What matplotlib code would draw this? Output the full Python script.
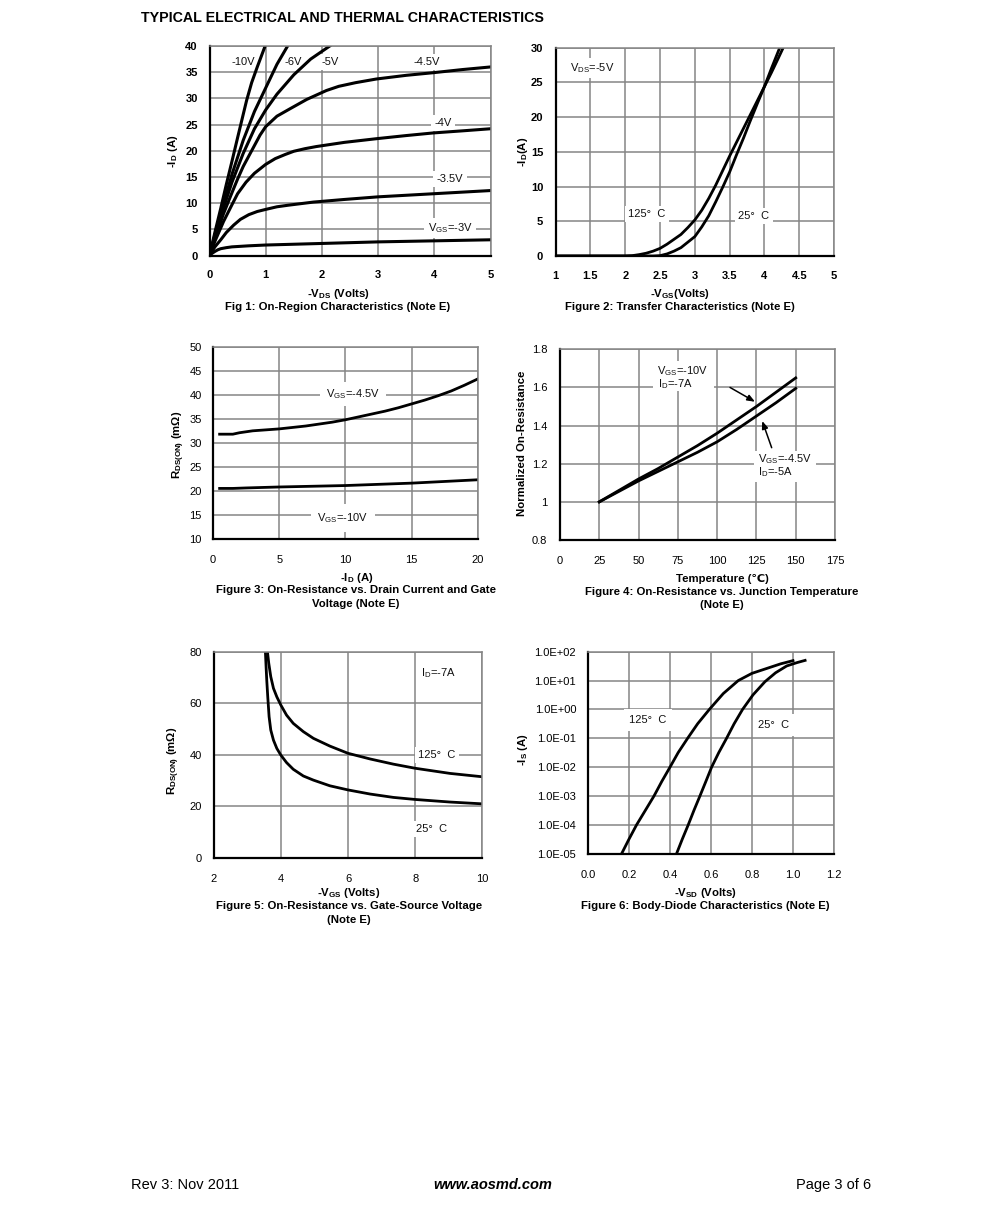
import matplotlib
matplotlib.use("Agg")
import matplotlib.pyplot as plt
from matplotlib import transforms
from matplotlib.patches import Rectangle

W, H = 991, 1220
plt.rcParams['font.family'] = ['Liberation Sans', 'DejaVu Sans']
plt.rcParams['mathtext.fontset'] = 'custom'
plt.rcParams['mathtext.rm'] = 'Liberation Sans'
plt.rcParams['mathtext.bf'] = 'Liberation Sans:bold'
plt.rcParams['mathtext.default'] = 'regular'

# Figure 1
f1_x10 = [0, .1, .2, .3, .4, .5, .66, .75, .85, .99]
f1_y10 = [0, 4.6, 9, 13.6, 18, 22.5, 29.6, 33, 36, 40]
f1_x6 = [0, .1, .2, .4, .6, .8, 1.0, 1.2, 1.39]
f1_y6 = [0, 4.1, 8, 15.5, 22, 27.5, 32, 36.5, 40]
f1_x5 = [0, .1, .2, .4, .6, .8, 1.0, 1.2, 1.5, 1.8, 2.14]
f1_y5 = [0, 3.8, 7.5, 14, 19.5, 24.2, 27.8, 30.8, 34.5, 37.5, 40]
f1_x45 = [0, .05, .1, .25, .4, .5, .6, .75, .9, 1.0, 1.2, 1.43, 1.73, 2.08, 2.3, 2.6, 2.97, 3.5, 3.98, 4.5, 5]
f1_y45 = [0, 1.7, 3.4, 8, 12, 14.6, 17, 20, 23, 24.6, 26.6, 28, 29.8, 31.5, 32.3, 33, 33.7, 34.4, 34.9, 35.5, 36]
f1_x4 = [0, .05, .1, .25, .4, .5, .65, .8, 1, 1.17, 1.35, 1.5, 1.7, 1.9, 2.4, 2.97, 3.5, 3.98, 4.5, 5]
f1_y4 = [0, 1.4, 2.8, 6.5, 9.7, 11.8, 14, 15.7, 17.4, 18.5, 19.3, 19.9, 20.4, 20.8, 21.6, 22.3, 22.9, 23.4, 23.8, 24.2]
f1_x35 = [0, .05, .1, .2, .3, .43, .55, .7, .85, 1, 1.2, 1.4, 1.85, 2.4, 3, 4, 5]
f1_y35 = [0, .9, 1.7, 3, 4.4, 5.8, 6.9, 7.8, 8.4, 8.8, 9.3, 9.6, 10.2, 10.7, 11.2, 11.8, 12.4]
f1_x3 = [0, .05, .1, .15, .2, .3, .4, .7, 1, 2, 3, 4, 5]
f1_y3 = [0, .45, .8, 1.1, 1.3, 1.5, 1.65, 1.85, 2, 2.3, 2.6, 2.8, 3]

# Figure 2
f2_x125 = [1, 2, 2.1, 2.2, 2.3, 2.4, 2.5, 2.6, 2.7, 2.8, 2.9, 3, 3.1, 3.2, 3.3, 3.4, 3.5, 3.6, 3.7, 3.8, 3.9, 4, 4.1, 4.22]
f2_y125 = [0, 0, .05, .2, .4, .7, 1.1, 1.7, 2.4, 3.1, 4.1, 5.2, 6.6, 8.3, 10.2, 12.3, 14.4, 16.4, 18.4, 20.4, 22.4, 24.4, 27, 30]
f2_x25 = [1, 2.4, 2.5, 2.6, 2.7, 2.8, 2.9, 3, 3.1, 3.2, 3.3, 3.4, 3.5, 3.6, 3.7, 3.79, 3.9, 4, 4.1, 4.2, 4.27]
f2_y25 = [0, 0, .05, .3, .7, 1.2, 2, 2.8, 4.2, 5.8, 7.8, 9.9, 12.1, 14.6, 17, 19.3, 22, 24.4, 26.4, 28.5, 30]

# Figure 3
f3_x45 = [.5, 1.5, 2, 3, 4, 5, 6, 7, 8, 9, 10, 11, 12, 13, 14, 15, 16, 17, 18, 19, 20]
f3_y45 = [31.9, 31.9, 32.2, 32.6, 32.8, 33, 33.3, 33.6, 34, 34.4, 34.9, 35.5, 36.1, 36.7, 37.4, 38.2, 39, 39.9, 40.9, 42.1, 43.4]
f3_x10 = [.5, 1.5, 2.5, 5, 10, 15, 20]
f3_y10 = [20.6, 20.6, 20.7, 20.9, 21.2, 21.7, 22.4]

# Figure 4
f4_t = [25, 37.5, 50, 62.5, 75, 87.5, 100, 112.5, 125, 137.5, 150]
f4_y10 = [1, 1.06, 1.12, 1.175, 1.235, 1.295, 1.36, 1.43, 1.5, 1.575, 1.65]
f4_y45 = [1, 1.055, 1.11, 1.16, 1.21, 1.26, 1.315, 1.38, 1.45, 1.52, 1.595]

# Figure 5
f5_x125 = [3.6, 3.64, 3.7, 3.78, 3.88, 4, 4.17, 4.37, 4.67, 4.97, 5.46, 6, 6.66, 7.35, 8, 9.04, 10]
f5_y125 = [80, 75.5, 70.3, 65.8, 62.5, 59.3, 55.4, 52.2, 49, 46.4, 43.4, 40.6, 38.4, 36.4, 34.8, 32.8, 31.5]
f5_x25 = [3.54, 3.56, 3.58, 3.61, 3.65, 3.7, 3.78, 3.88, 4, 4.17, 4.37, 4.67, 4.97, 5.46, 6, 6.66, 7.35, 8, 9.04, 10]
f5_y25 = [80, 74.2, 69, 62.5, 54.8, 49.6, 45.7, 42.5, 39.9, 37, 34.4, 31.8, 30.2, 28, 26.4, 24.8, 23.5, 22.7, 21.7, 21]

# Figure 6
f6_x125 = [.164, .2, .237, .28, .322, .36, .4, .44, .486, .535, .592, .66, .733, .8, .87, .94, 1.0]
f6_y125 = [1e-5, 3.2e-5, 1e-4, 3.2e-4, 1e-3, 3.2e-3, 1e-2, .032, .1, .32, 1, 3.55, 10, 17.8, 26, 38, 49]
f6_x25 = [.432, .46, .489, .517, .546, .575, .603, .638, .676, .713, .754, .805, .863, .915, .969, 1.02, 1.059]
f6_y25 = [1e-5, 3.2e-5, 1e-4, 3.2e-4, 1e-3, 3.2e-3, 1e-2, .032, .1, .32, 1, 3.2, 9.1, 18.6, 32, 42, 50]

title_text = "TYPICAL ELECTRICAL AND THERMAL CHARACTERISTICS"

fig = plt.figure(figsize=(W / 100, H / 100), dpi=100, facecolor='white')
px = transforms.Affine2D().scale(1, -1).translate(0, H)
GRAY = '#858585'
FS = 8.0
CFS = 8.2


def panel(l, r, t, b, xlim, ylim, xt, yt, xlab=None, ylab=None, bold=False, xpad=10, ypad=8, log=False):
    ax = fig.add_axes([l / W, 1 - b / H, (r - l) / W, (b - t) / H])
    if log:
        ax.set_yscale('log')
    ax.set_xlim(*xlim)
    ax.set_ylim(*ylim)
    ax.set_xticks(xt)
    ax.set_yticks(yt)
    ax.minorticks_off()
    if xlab:
        ax.set_xticklabels(xlab)
    if ylab:
        ax.set_yticklabels(ylab)
    ax.set_axisbelow(True)
    ax.grid(True, color=GRAY, lw=1.1, zorder=0.5)
    for s in ('top', 'right'):
        ax.spines[s].set_color(GRAY)
        ax.spines[s].set_linewidth(1.1)
    for s in ('left', 'bottom'):
        ax.spines[s].set_color('black')
        ax.spines[s].set_linewidth(1.6)
    ax.tick_params(axis='both', which='both', length=0, labelsize=FS)
    ax.tick_params(axis='x', pad=xpad)
    ax.tick_params(axis='y', pad=ypad)
    for lab in ax.get_xticklabels() + ax.get_yticklabels():
        lab.set_fontweight('bold' if bold else 'normal')
    return ax


def label(ax, x, y, s, ha='center', pad=2.5):
    bb = None if pad is None else dict(fc='white', ec='none', pad=pad)
    ax.text(x, y + 1, s, transform=px, ha=ha, va='center', fontsize=FS, color='#111111', zorder=1.2,
            bbox=bb, clip_on=False)


def blank(ax, x0, y0, x1, y1):
    ax.add_patch(Rectangle((x0, y0), x1 - x0, y1 - y0, transform=px, fc='white', ec='none', zorder=1))


def cap(x, y, s, rot=0, fs=CFS):
    fig.text(x, y, s, transform=px, ha='center', va='center', fontsize=fs, fontweight='bold',
             rotation=rot, color='black')


LW = 2.0

# Fig 1
a1 = panel(209.5, 490.5, 46, 255.5, (0, 5), (0, 40), range(0, 6), range(0, 41, 5), bold=True, xpad=10.5, ypad=8.5)
for xs, ys in [(f1_x10, f1_y10), (f1_x6, f1_y6), (f1_x5, f1_y5), (f1_x45, f1_y45),
               (f1_x4, f1_y4), (f1_x35, f1_y35), (f1_x3, f1_y3)]:
    a1.plot(xs, ys, color='black', lw=2.2, zorder=2, solid_joinstyle='round')
for x, y, s in [(243, 61, '-10V'), (293, 61, '-6V'), (330, 61, '-5V'), (427, 61, '-4.5V'),
                (443, 122, '-4V'), (450, 178, '-3.5V'), (450, 227, r'$V_{GS}$=-3V')]:
    label(a1, x, y, s)
cap(338, 294, r'-$\mathbf{V_{DS}}$ (Volts)')
cap(338, 307, 'Fig 1: On-Region Characteristics (Note E)')
cap(173, 151, r'-$\mathbf{I_D}$ (A)', rot=90)

# Fig 2
a2 = panel(555.7, 834, 47.7, 256, (1, 5), (0, 30), [1, 1.5, 2, 2.5, 3, 3.5, 4, 4.5, 5], range(0, 31, 5),
           xlab=['1', '1.5', '2', '2.5', '3', '3.5', '4', '4.5', '5'], bold=True, xpad=11, ypad=9)
a2.plot(f2_x125, f2_y125, color='black', lw=LW, zorder=2)
a2.plot(f2_x25, f2_y25, color='black', lw=LW, zorder=2)
for x, y, s in [(592, 67, r'$V_{DS}$=-5V'), (647, 213, '125°  C'), (754, 215, '25°  C')]:
    label(a2, x, y, s)
cap(680, 294, r'-$\mathbf{V_{GS}}$(Volts)')
cap(680, 307, 'Figure 2: Transfer Characteristics (Note E)')
cap(523, 152, r'-$\mathbf{I_D}$(A)', rot=90)

# Fig 3
a3 = panel(213, 477.7, 347.3, 539.3, (0, 20), (10, 50), range(0, 21, 5), range(10, 51, 5), xpad=11.5, ypad=8)
a3.plot(f3_x45, f3_y45, color='black', lw=LW, zorder=2)
a3.plot(f3_x10, f3_y10, color='black', lw=LW, zorder=2)
label(a3, 353, 393, r'$V_{GS}$=-4.5V', pad=4)
label(a3, 343, 517, r'$V_{GS}$=-10V', pad=5)
cap(357, 578, r'-$\mathbf{I_D}$ (A)')
cap(356, 590, 'Figure 3: On-Resistance vs. Drain Current and Gate')
cap(356, 604, 'Voltage (Note E)')
cap(179, 445, r'$\mathbf{R_{DS(ON)}}$ (m$\mathbf{\Omega}$)', rot=90)

# Fig 4
a4 = panel(560, 835, 349.3, 540, (0, 175), (0.8, 1.8), range(0, 176, 25), [.8, 1, 1.2, 1.4, 1.6, 1.8],
           ylab=['0.8', '1', '1.2', '1.4', '1.6', '1.8'], xpad=11.5, ypad=9)
a4.plot(f4_t, f4_y10, color='black', lw=LW, zorder=2)
a4.plot(f4_t, f4_y45, color='black', lw=LW, zorder=2)
blank(a4, 653, 361, 714, 391)
blank(a4, 754, 451, 816, 482)
label(a4, 683, 370, r'$V_{GS}$=-10V', pad=None)
label(a4, 658, 383, r'$I_D$=-7A', ha='left', pad=None)
label(a4, 758, 458, r'$V_{GS}$=-4.5V', ha='left', pad=None)
label(a4, 758, 471, r'$I_D$=-5A', ha='left', pad=None)
for start, end in [((108.2, 1.6), (124.1, 1.525)), ((134.7, 1.284), (128.7, 1.424))]:
    a4.annotate('', xy=end, xytext=start, zorder=3,
                arrowprops=dict(arrowstyle='-|>,head_width=0.18,head_length=0.45', color='black', lw=1.1,
                                shrinkA=0, shrinkB=0))
cap(722, 579, 'Temperature (℃)')
cap(722, 592, 'Figure 4: On-Resistance vs. Junction Temperature')
cap(722, 605, '(Note E)')
cap(522, 443, 'Normalized On-Resistance', rot=90)

# Fig 5
a5 = panel(213.7, 482.3, 651.7, 858, (2, 10), (0, 80), range(2, 11, 2), range(0, 81, 20), xpad=11.5, ypad=8.5)
a5.plot(f5_x125, f5_y125, color='black', lw=LW, zorder=2)
a5.plot(f5_x25, f5_y25, color='black', lw=LW, zorder=2)
label(a5, 438, 672, r'$I_D$=-7A')
label(a5, 437, 754, '125°  C')
label(a5, 432, 828, '25°  C')
cap(349, 893, r'-$\mathbf{V_{GS}}$ (Volts)')
cap(349, 906, 'Figure 5: On-Resistance vs. Gate-Source Voltage')
cap(349, 920, '(Note E)')
cap(174, 761, r'$\mathbf{R_{DS(ON)}}$ (m$\mathbf{\Omega}$)', rot=90)

# Fig 6
a6 = panel(588, 834, 651.7, 853.7, (0, 1.2), (1e-5, 1e2), [0, .2, .4, .6, .8, 1, 1.2],
           [1e-5, 1e-4, 1e-3, 1e-2, 1e-1, 1, 1e1, 1e2],
           xlab=['0.0', '0.2', '0.4', '0.6', '0.8', '1.0', '1.2'],
           ylab=['1.0E-05', '1.0E-04', '1.0E-03', '1.0E-02', '1.0E-01', '1.0E+00', '1.0E+01', '1.0E+02'],
           xpad=11.5, ypad=8.5, log=True)
a6.plot(f6_x125, f6_y125, color='black', lw=LW, zorder=2)
a6.plot(f6_x25, f6_y25, color='black', lw=LW, zorder=2)
label(a6, 648, 719, '125°  C', pad=4)
label(a6, 774, 724, '25°  C', pad=4)
cap(705, 893, r'-$\mathbf{V_{SD}}$ (Volts)')
cap(705, 906, 'Figure 6: Body-Diode Characteristics (Note E)')
cap(523, 750, r'-$\mathbf{I_S}$ (A)', rot=90)

# Page text
fig.text(141, 18, title_text, transform=px, ha='left', va='center', fontsize=10.25, fontweight='bold')
fig.text(131, 1185, 'Rev 3: Nov 2011', transform=px, ha='left', va='center', fontsize=10.5)
fig.text(493, 1185, 'www.aosmd.com', transform=px, ha='center', va='center', fontsize=10.5,
         fontweight='bold', style='italic')
fig.text(871, 1185, 'Page 3 of 6', transform=px, ha='right', va='center', fontsize=10.5)

fig.savefig('out.png', dpi=100, facecolor='white')
